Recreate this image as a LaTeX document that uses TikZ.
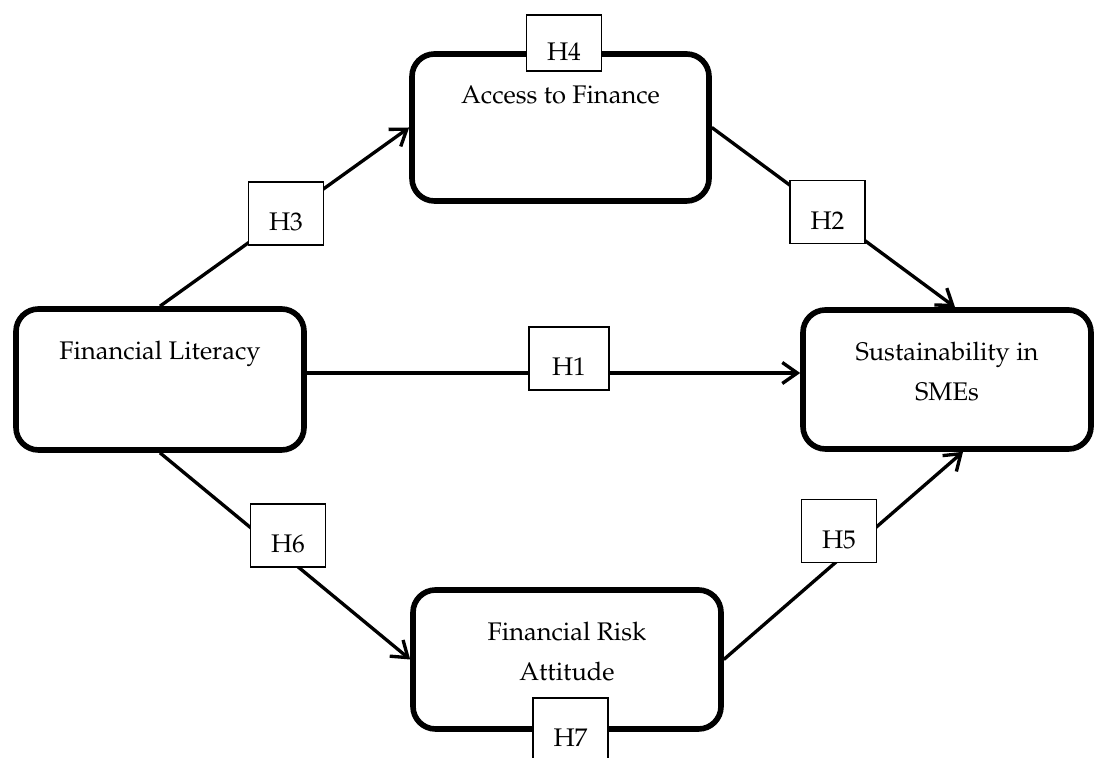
\documentclass[tikz,border=0pt]{standalone}
\usepackage[T1]{fontenc}
\usepackage{mathpazo}
\usetikzlibrary{arrows.meta, positioning}

\tikzset{
  construct/.style={draw, line width=3.2pt, rounded corners=0.45cm, inner sep=0pt},
  boxtitle/.style={anchor=north, yshift=-0.57cm, align=center},
  hyp/.style={draw, fill=white, line width=1.1pt, minimum width=1.5cm, minimum height=1.26cm,
    text height=0.7cm, text depth=0pt, inner sep=0pt},
  link/.style={line width=1.9pt, -{Straight Barb[length=0.3cm, width=0.42cm]}}
}

\begin{document}
\begin{tikzpicture}[font=\fontsize{14.5}{22.8}\selectfont]
    \useasboundingbox (0,0) rectangle (21.9,15.16);

    % Constructs
    \node[construct, minimum width=5.94cm, minimum height=2.94cm,
      label={[boxtitle]north:Access to Finance}] (af) at (11.21,12.61) {};
    \node[construct, minimum width=5.76cm, minimum height=2.82cm,
      label={[boxtitle]north:Financial Literacy}] (fl) at (3.20,7.57) {};
    \node[construct, minimum width=5.76cm, minimum height=2.78cm,
      label={[boxtitle]north:Sustainability in\\SMEs}] (su) at (18.94,7.57) {};
    \node[construct, minimum width=6.16cm, minimum height=2.78cm,
      label={[boxtitle]north:Financial Risk\\Attitude}] (fr) at (11.34,1.97) {};

    % Paths
    \draw[link] (fl.north) -- (af.west);
    \draw[link] (af.east) -- ([xshift=0.16cm]su.north);
    \draw[link] ([yshift=0.13cm]fl.east) -- ([yshift=0.13cm]su.west);
    \draw[link] (fl.south) -- (fr.west);
    \draw[link] (fr.east) -- ([xshift=0.32cm]su.south);

    % Hypotheses
    \node[hyp, minimum height=1.12cm] (h4) at (11.28,14.30) {H4};
    \node[hyp] (h3) at (5.72,10.89) {H3};
    \node[hyp] (h2) at (16.55,10.92) {H2};
    \node[hyp, minimum width=1.6cm] (h1) at (11.38,7.99) {H1};
    \node[hyp] (h6) at (5.76,4.45) {H6};
    \node[hyp] (h5) at (16.78,4.54) {H5};
    \node[hyp] (h7) at (11.41,0.57) {H7};
\end{tikzpicture}
\end{document}
